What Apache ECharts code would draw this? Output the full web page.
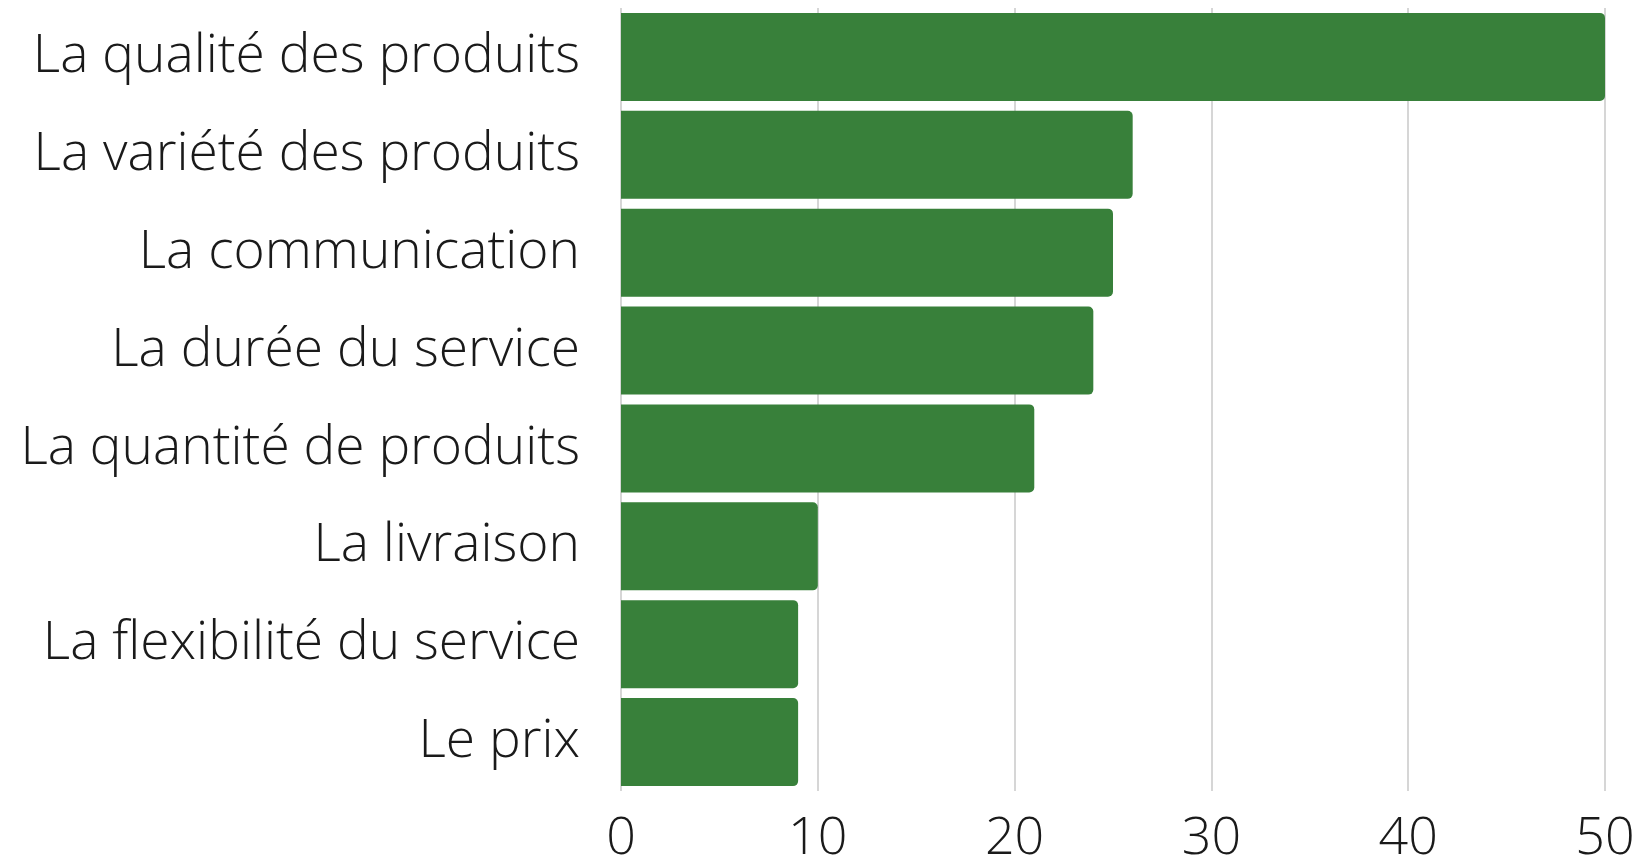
<!DOCTYPE html>
<html><head><meta charset="utf-8">
<script src="https://cdn.jsdelivr.net/npm/echarts@6/dist/echarts.min.js"></script>
<style>html,body{margin:0;padding:0;background:#fff}#c{width:1645px;height:865px}</style>
</head><body><div id="c"></div>
<script>
var categories = ["La qualité des produits","La variété des produits","La communication","La durée du service","La quantité de produits","La livraison","La flexibilité du service","Le prix"];
var values = [50, 26, 25, 24, 21, 10, 9, 9];
var xTicks = [0, 10, 20, 30, 40, 50];

var chart = echarts.init(document.getElementById('c'), null, {renderer:'canvas'});
chart.setOption({
  animation:false,
  backgroundColor:'#ffffff',
  grid:{left:621, right:40, top:8, bottom:71, containLabel:false},
  xAxis:{type:'value', min:xTicks[0], max:xTicks[xTicks.length-1], interval:10,
    axisLine:{show:false}, axisTick:{show:false},
    splitLine:{show:true, lineStyle:{color:'#c9c9c9', width:1.5}},
    axisLabel:{fontFamily:'Open Sans', fontWeight:300, fontSize:52, color:'#1a1a1a', margin:22}},
  yAxis:{type:'category', data:categories, inverse:true,
    axisLine:{show:false}, axisTick:{show:false},
    axisLabel:{fontFamily:'Open Sans', fontWeight:300, fontSize:53.3, color:'#1a1a1a', margin:41}},
  series:[{type:'bar', data:values, barCategoryGap:'10%',
    itemStyle:{color:'#38803a', borderRadius:[0,5,5,0]}}]
});
</script></body></html>
